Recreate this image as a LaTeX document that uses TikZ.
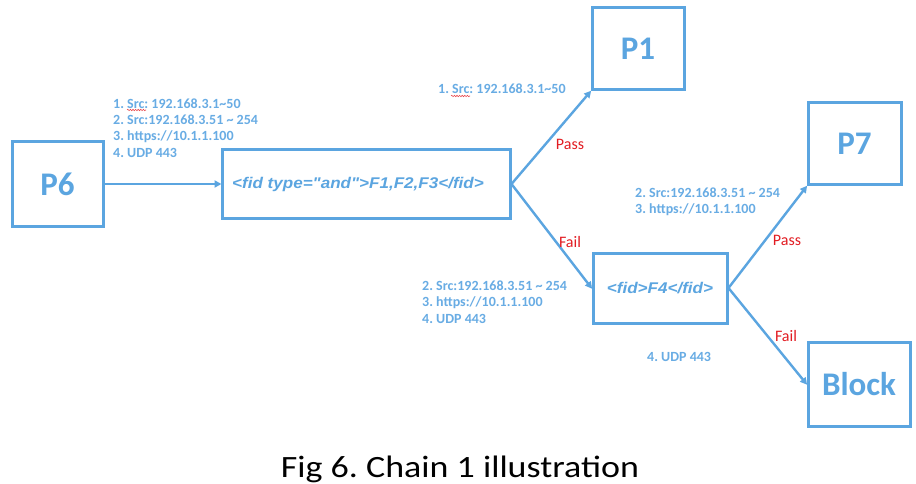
\documentclass[tikz,border=0pt]{standalone}
\usepackage{fontspec}
\setmainfont{Carlito}
\newfontfamily\arialfont[FakeStretch=1.1]{Liberation Sans}
\newfontfamily\capfont[FakeStretch=1.16]{Carlito}
\usetikzlibrary{arrows.meta,decorations.pathmorphing}
\definecolor{boxc}{RGB}{91,165,224}
\definecolor{infoc}{RGB}{104,172,228}
\definecolor{redc}{RGB}{226,28,34}
\frenchspacing
\begin{document}
\begin{tikzpicture}[x=1pt,y=-1pt,
  box/.style={draw=boxc, line width=3pt, inner sep=0pt, text=boxc},
  bigbox/.style={box, font=\fontsize{33}{33}\selectfont\bfseries},
  fidbox/.style={box, font=\arialfont\fontsize{15.5}{15.5}\selectfont\bfseries\itshape},
  conn/.style={draw=boxc, line width=2.4pt, -{Triangle[length=7pt,width=7pt]}, shorten >=-1pt},
  info/.style={font=\fontsize{14}{16.3}\selectfont\bfseries, text=infoc, align=left, inner sep=0pt, anchor=west},
  lbl/.style={font=\fontsize{16}{16}\selectfont, text=redc, inner sep=0pt},
  squig/.style={draw=redc!80, line width=0.6pt, decorate, decoration={snake, amplitude=0.7pt, segment length=2.6pt}}]
\useasboundingbox (0,0) rectangle (916,484);
\fill[white] (0,0) rectangle (916,484);
% boxes
\node[bigbox, minimum width=91pt, minimum height=84pt] (p6) at (57.5,184) {P6};
\node[fidbox, minimum width=288pt, minimum height=68pt] (f1) at (366,184) {<fid type="and">F1,F2,F3</fid>\hspace*{16pt}};
\node[bigbox, minimum width=92pt, minimum height=82pt] (p1) at (638,49) {P1};
\node[bigbox, minimum width=93pt, minimum height=82pt] (p7) at (854.5,144) {P7};
\node[fidbox, minimum width=134pt, minimum height=70pt] (f4) at (660,288) {<fid>F4</fid>};
\node[bigbox, minimum width=102pt, minimum height=84pt] (blk) at (859,384) {Block};
% connectors
\draw[conn] (p6.east) -- (f1.west);
\draw[conn] (f1.east) -- (p1.south west);
\draw[conn] (f1.east) -- (f4.west);
\draw[conn] (f4.east) -- (p7.south west);
\draw[conn] (f4.east) -- (blk.west);
% labels
\node[lbl] (l1) at (570,144) {Pass};
\node[lbl] (l2) at (570,242) {Fail};
\node[lbl] (l3) at (787,240) {Pass};
\node[lbl] (l4) at (786,336) {Fail};
% info texts
\node[info] (t1) at (113,128) {1. Src: 192.168.3.1\textasciitilde 50\\2. Src:192.168.3.51 \textasciitilde{} 254\\3. https://10.1.1.100\\4. UDP 443};
\node[info] (t2) at (438,89) {1. Src: 192.168.3.1\textasciitilde 50};
\node[info] (t3) at (635,202) {2. Src:192.168.3.51 \textasciitilde{} 254\\3. https://10.1.1.100};
\node[info] (t4) at (422,302) {2. Src:192.168.3.51 \textasciitilde{} 254\\3. https://10.1.1.100\\4. UDP 443};
\node[info] (t5) at (647,357) {4. UDP 443};
% spell-check squiggles
\draw[squig] (127,110) -- (146,110);
\draw[squig] (451,96) -- (470,96);
% caption
\node[font=\capfont\fontsize{31}{31}\selectfont, text=black, inner sep=0pt, anchor=base] (cap) at (460,477) {Fig 6. Chain 1 illustration};
\end{tikzpicture}
\end{document}
